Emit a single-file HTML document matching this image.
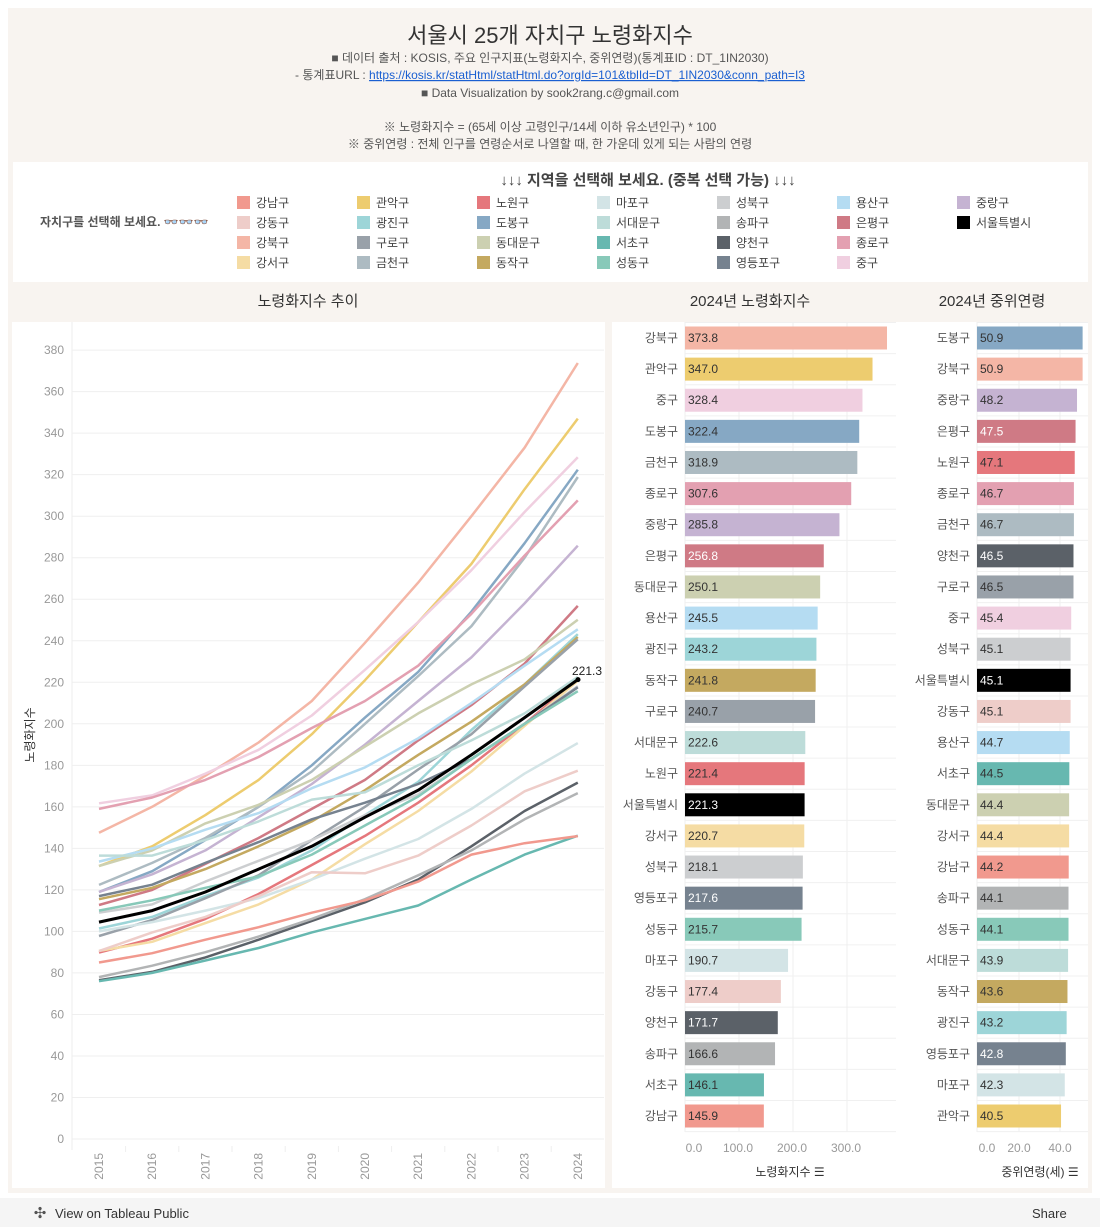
<!DOCTYPE html>
<html><head><meta charset="utf-8">
<style>
html,body{margin:0;padding:0;background:#fff;}
body{width:1100px;height:1227px;position:relative;overflow:hidden;font-family:"Liberation Sans","Noto Sans CJK KR",sans-serif;}
svg{position:absolute;left:0;top:0;}
text{font-family:"Liberation Sans","Noto Sans CJK KR",sans-serif;}
</style></head>
<body>
<svg id="s" width="1100" height="1227" viewBox="0 0 1100 1227" xmlns="http://www.w3.org/2000/svg">
<rect x="8" y="8" width="1084" height="1185" fill="#f8f4f0"/>
<rect x="13" y="162" width="1075" height="120" fill="#fff"/>
<rect x="12" y="322" width="593" height="866" fill="#fff"/>
<rect x="612" y="322" width="476" height="866" fill="#fff"/>
<rect x="0" y="1198" width="1100" height="29" fill="#f5f5f5"/>
<g text-anchor="middle" fill="#555" font-size="12">
<text x="550" y="43" font-size="22" fill="#333">서울시 25개 자치구 노령화지수</text>
<text x="550" y="62">■ 데이터 출처 : KOSIS, 주요 인구지표(노령화지수, 중위연령)(통계표ID : DT_1IN2030)</text>
<text x="550" y="79">- 통계표URL : <tspan fill="#1a5fd1" text-decoration="underline">https://kosis.kr/statHtml/statHtml.do?orgId=101&amp;tblId=DT_1IN2030&amp;conn_path=I3</tspan></text>
<text x="550" y="97">■ Data Visualization by sook2rang.c@gmail.com</text>
<text x="550" y="131">※ 노령화지수 = (65세 이상 고령인구/14세 이하 유소년인구) * 100</text>
<text x="550" y="148">※ 중위연령 : 전체 인구를 연령순서로 나열할 때, 한 가운데 있게 되는 사람의 연령</text>
<text x="648" y="185" font-size="15" fill="#444" font-weight="bold">↓↓↓ 지역을 선택해 보세요. (중복 선택 가능) ↓↓↓</text>
<text x="308" y="306" font-size="15" fill="#333">노령화지수 추이</text>
<text x="750" y="306" font-size="15" fill="#333">2024년 노령화지수</text>
<text x="992" y="306" font-size="15" fill="#333">2024년 중위연령</text>
</g>
<text x="40" y="226" font-size="12" font-weight="bold" fill="#555">자치구를 선택해 보세요. <tspan fill="#f0a030">👓👓👓</tspan></text>
<text x="55" y="1218" font-size="13" fill="#333">View on Tableau Public</text>
<text x="1032" y="1218" font-size="13" fill="#333">Share</text>
<text x="40" y="1218" font-size="15" fill="#555" text-anchor="middle">✣</text>
<g id="g"></g>
</svg>
<script>
var C={"강남구":"#f1998e","강동구":"#eecdc9","강북구":"#f4b6a6","강서구":"#f5dca4","관악구":"#edcc6f","광진구":"#9dd5d8","구로구":"#99a1a9","금천구":"#adbbc2","노원구":"#e5777c","도봉구":"#86a8c4","동대문구":"#ccd0b1","동작구":"#c4a960","마포구":"#d3e4e6","서대문구":"#bddcd9","서초구":"#67b8b0","성동구":"#88c9b9","성북구":"#ccced0","송파구":"#b2b4b5","양천구":"#5b6168","영등포구":"#76828f","용산구":"#b5dcf2","은평구":"#cf7a85","종로구":"#e3a0b1","중구":"#f0cfe0","중랑구":"#c5b3d2","서울특별시":"#000000"};
var D={
"강북구":[147.5,160,175,191,211,239,268,300,333,373.8],
"관악구":[131.5,141,156,173,195,221,249,277,313,347],
"중구":[161.7,165.5,176,187.5,204,226,249,274,302,328.4],
"도봉구":[119,129,144,160,180,203,225,254,287,322.4],
"금천구":[122.4,133,145,160,177,200,223,247,280,318.9],
"종로구":[159,164.5,173,184,198,211,228,253,281,307.6],
"중랑구":[119,127.5,139,155,171,190,211,232,258,285.8],
"은평구":[112.7,120,132.5,145,159,173,192,209,229,256.8],
"동대문구":[131.5,139,152,161,173,189,205,219,231,250.1],
"용산구":[133.6,140,149,157,169,179,193,210,228,245.5],
"광진구":[101.4,107,117,126,139,156,172,197,219,243.2],
"동작구":[115.5,121,130,141,153,168,185,201,219,241.8],
"구로구":[97.8,105.5,116,127,144,160,178,195,218,240.7],
"서대문구":[136.5,136.5,144,153,163.5,167,180,192,205,222.6],
"노원구":[89.8,96.5,106,118,132,146,162,180,200,221.4],
"강서구":[90.6,95,104,113,125,142,158,177,199,220.7],
"성북구":[109,113,124,134,144,156,166,183,200,218.1],
"영등포구":[117,122.5,133,143,154,162,171,183,200,217.6],
"성동구":[110,115,121,126.5,137,151,165,183,200,215.7],
"마포구":[100,104.5,110,116,125,135,144.5,159,176,190.7],
"강동구":[90.5,99.5,107,117,128.5,128,136.5,151,167.5,177.4],
"양천구":[76.5,80.5,87.5,96,105,114,125,141,158,171.7],
"송파구":[78,83.5,90,97.5,106,115.5,127,139,154,166.6],
"서초구":[76,80,86,92,99.5,106,112.5,125,137,146.1],
"강남구":[85,89.5,96,102,109,115,124,137,142.5,145.9],
"서울특별시":[104.5,110,119,130,141,155,168,185,203,221.3]};
var A=[["강북구",373.8],["관악구",347.0],["중구",328.4],["도봉구",322.4],["금천구",318.9],["종로구",307.6],["중랑구",285.8],["은평구",256.8],["동대문구",250.1],["용산구",245.5],["광진구",243.2],["동작구",241.8],["구로구",240.7],["서대문구",222.6],["노원구",221.4],["서울특별시",221.3],["강서구",220.7],["성북구",218.1],["영등포구",217.6],["성동구",215.7],["마포구",190.7],["강동구",177.4],["양천구",171.7],["송파구",166.6],["서초구",146.1],["강남구",145.9]];
var B=[["도봉구",50.9],["강북구",50.9],["중랑구",48.2],["은평구",47.5],["노원구",47.1],["종로구",46.7],["금천구",46.7],["양천구",46.5],["구로구",46.5],["중구",45.4],["성북구",45.1],["서울특별시",45.1],["강동구",45.1],["용산구",44.7],["서초구",44.5],["동대문구",44.4],["강서구",44.4],["강남구",44.2],["송파구",44.1],["성동구",44.1],["서대문구",43.9],["동작구",43.6],["광진구",43.2],["영등포구",42.8],["마포구",42.3],["관악구",40.5]];
var L=[["강남구","강동구","강북구","강서구"],["관악구","광진구","구로구","금천구"],["노원구","도봉구","동대문구","동작구"],["마포구","서대문구","서초구","성동구"],["성북구","송파구","양천구","영등포구"],["용산구","은평구","종로구","중구"],["중랑구","서울특별시"]];
var dark={"은평구":1,"양천구":1,"영등포구":1,"서울특별시":1};
var h='';
function t(x,y,s,o){return '<text x="'+x+'" y="'+y+'" '+(o||'')+'>'+s+'</text>';}
// legend
L.forEach(function(col,ci){col.forEach(function(n,ri){var x=237+ci*120,y=196+ri*20;h+='<rect x="'+x+'" y="'+y+'" width="13" height="13" fill="'+C[n]+'"/>'+t(x+19,y+11,n,'font-size="12" fill="#444"');});});
// line chart grid
for(var v=0;v<=380;v+=20){var y=1139-2.076*v;h+='<line x1="72" x2="604" y1="'+y+'" y2="'+y+'" stroke="#efefef"/>'+t(64,y+4,v,'font-size="12" fill="#999" text-anchor="end"');}
h+='<line x1="72" x2="72" y1="322" y2="1150" stroke="#eee"/>';
for(var i=0;i<10;i++){var x=99+i*53.2;h+=t(0,0,2015+i,'font-size="12" fill="#999" text-anchor="end" transform="translate('+(x+4)+',1153) rotate(-90)"');if(i>0)h+='<line x1="'+(x-26.6)+'" x2="'+(x-26.6)+'" y1="1146" y2="1152" stroke="#eee"/>';}
h+=t(0,0,'노령화지수','font-size="12" fill="#333" text-anchor="middle" transform="translate(34,735) rotate(-90)"');
Object.keys(D).forEach(function(n){var p=D[n].map(function(v,i){return (99+i*53.2).toFixed(1)+','+(1139-2.076*v).toFixed(1);}).join(' ');h+='<polyline points="'+p+'" fill="none" stroke="'+C[n]+'" stroke-width="'+(n=="서울특별시"?3:2.5)+'" stroke-linejoin="round"/>';});
h+='<circle cx="578" cy="'+(1139-2.076*221.3)+'" r="2.5" fill="#000"/>'+t(587,675,'221.3','font-size="12" fill="#222" text-anchor="middle"');
// bar charts
[685,739,793,847].forEach(function(x){h+='<line x1="'+x+'" x2="'+x+'" y1="322" y2="1132" stroke="#efefef"/>';});
[977,1019,1060].forEach(function(x){h+='<line x1="'+x+'" x2="'+x+'" y1="322" y2="1132" stroke="#efefef"/>';});
for(var r=0;r<=26;r++){var y=322.5+r*31.12;h+='<line x1="685" x2="896" y1="'+y+'" y2="'+y+'" stroke="#f0f0f0"/><line x1="977" x2="1088" y1="'+y+'" y2="'+y+'" stroke="#f0f0f0"/>';}
A.forEach(function(a,r){var cy=338+r*31.12,w=a[1]*0.5404;h+=t(678,cy+4,a[0],'font-size="12" fill="#555" text-anchor="end"')+'<rect x="685" y="'+(cy-11.5)+'" width="'+w+'" height="23" fill="'+C[a[0]]+'"/>'+t(688,cy+4,a[1].toFixed(1),'font-size="12" fill="'+(dark[a[0]]?'#fff':'#333')+'"');});
B.forEach(function(a,r){var cy=338+r*31.12,w=a[1]*2.075;h+=t(970,cy+4,a[0],'font-size="12" fill="#555" text-anchor="end"')+'<rect x="977" y="'+(cy-11.5)+'" width="'+w+'" height="23" fill="'+C[a[0]]+'"/>'+t(980,cy+4,a[1].toFixed(1),'font-size="12" fill="'+(dark[a[0]]?'#fff':'#333')+'"');});
[[694,"0.0"],[738,"100.0"],[792,"200.0"],[846,"300.0"]].forEach(function(a){h+=t(a[0],1152,a[1],'font-size="12" fill="#999" text-anchor="middle"');});
[[987,"0.0"],[1019,"20.0"],[1060,"40.0"]].forEach(function(a){h+=t(a[0],1152,a[1],'font-size="12" fill="#999" text-anchor="middle"');});
h+=t(790,1176,'노령화지수 ☰','font-size="12" fill="#333" text-anchor="middle"')+t(1040,1176,'중위연령(세) ☰','font-size="12" fill="#333" text-anchor="middle"');
document.getElementById('g').innerHTML=h;
</script>
</body></html>
